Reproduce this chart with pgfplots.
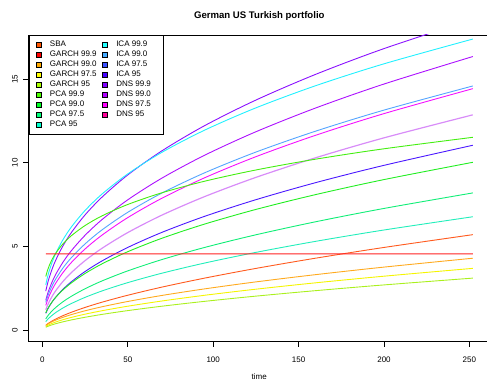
\documentclass[border=0pt]{standalone}
\usepackage{pgfplots}
\pgfplotsset{compat=1.18}
\usepackage{pgfplotstable}
\usepackage{fontspec}
\setmainfont{Liberation Sans}

\definecolor{cDNSa}{HTML}{8A10FF}
\definecolor{cCyan}{HTML}{22F0FF}
\definecolor{cDNSb}{HTML}{AC10FF}
\definecolor{cLblue}{HTML}{55A5FF}
\definecolor{cMag}{HTML}{F410FF}
\definecolor{cLviol}{HTML}{D88CF8}
\definecolor{cPCAa}{HTML}{44EE11}
\definecolor{cBlue}{HTML}{4B18FF}
\definecolor{cPCAb}{HTML}{22EE22}
\definecolor{cPCAc}{HTML}{11EE77}
\definecolor{cPCAd}{HTML}{22EEBB}
\definecolor{cGa}{HTML}{FF5A1E}
\definecolor{sbared}{HTML}{FF2222}
\definecolor{cGb}{HTML}{FFAA1E}
\definecolor{cGc}{HTML}{F5F500}
\definecolor{cGd}{HTML}{AAF01E}

% legend colours
\definecolor{lSBA}{HTML}{FF5500}
\definecolor{lG1}{HTML}{FF0000}
\definecolor{lG2}{HTML}{FFAA00}
\definecolor{lG3}{HTML}{FFFF00}
\definecolor{lG4}{HTML}{AAFF00}
\definecolor{lP1}{HTML}{4CFF00}
\definecolor{lP2}{HTML}{00FF22}
\definecolor{lP3}{HTML}{00FF78}
\definecolor{lP4}{HTML}{00FFCC}
\definecolor{lI1}{HTML}{22FFFF}
\definecolor{lI2}{HTML}{44AAFF}
\definecolor{lI3}{HTML}{3A50FF}
\definecolor{lI4}{HTML}{4400FF}
\definecolor{lD1}{HTML}{8000FF}
\definecolor{lD2}{HTML}{B000FF}
\definecolor{lD3}{HTML}{FF00FF}
\definecolor{lD4}{HTML}{FF0099}

\pgfplotstableread{
t   dA     cy     dB     lb     mg     lv     pA     bl     pB     pC    pD    gA    gB    gC    gD
2   2.324  2.704  1.777  1.649  1.469  1.204  3.200  0.994  1.028  0.663 0.500 0.279 0.271 0.214 0.163
3   2.767  3.161  2.141  1.979  1.780  1.468  3.563  1.217  1.245  0.819 0.622 0.359 0.342 0.271 0.209
4   3.131  3.532  2.443  2.254  2.039  1.690  3.845  1.404  1.426  0.951 0.726 0.430 0.403 0.321 0.249
6   3.727  4.128  2.943  2.706  2.469  2.062  4.281  1.718  1.725  1.174 0.904 0.554 0.508 0.408 0.319
8   4.218  4.612  3.358  3.080  2.829  2.374  4.620  1.983  1.976  1.364 1.055 0.663 0.599 0.483 0.380
12  5.022  5.391  4.045  3.699  3.426  2.896  5.145  2.427  2.392  1.684 1.313 0.853 0.755 0.614 0.486
17  5.833  6.165  4.747  4.328  4.039  3.435  5.642  2.886  2.818  2.018 1.584 1.060 0.921 0.753 0.601
25  6.885  7.151  5.666  5.150  4.847  4.150  6.249  3.498  3.380  2.466 1.950 1.349 1.148 0.946 0.760
35  7.957  8.140  6.611  5.994  5.681  4.893  6.832  4.135  3.960  2.938 2.338 1.664 1.390 1.153 0.933
50  9.277  9.338  7.788  7.041  6.725  5.828  7.509  4.939  4.684  3.536 2.833 2.079 1.705 1.422 1.159
70  10.720 10.631 9.087  8.194  7.883  6.873  8.210  5.841  5.488  4.213 3.397 2.565 2.066 1.734 1.422
95  12.226 11.957 10.456 9.404  9.107  7.981  8.902  6.800  6.337  4.938 4.005 3.103 2.459 2.076 1.713
125 13.756 13.290 11.860 10.644 10.368 9.130  9.573  7.795  7.212  5.695 4.643 3.683 2.877 2.440 2.025
160 15.296 14.616 13.283 11.897 11.651 10.305 10.220 8.816  8.101  6.475 5.304 4.296 3.311 2.822 2.353
200 16.836 15.926 14.716 13.156 12.946 11.496 10.842 9.851  8.999  7.272 5.982 4.938 3.762 3.218 2.696
252 18.590 17.408 16.362 14.601 14.439 12.873 11.528 11.053 10.033 8.201 6.775 5.703 4.293 3.687 3.103
}\data

\begin{document}
\begin{tikzpicture}
\begin{axis}[
  scale only axis,
  width=461.2bp, height=306bp,
  xmin=-8, xmax=262, ymin=-0.66, ymax=17.65,
  xtick={0,50,100,150,200,250},
  ytick={0,5,10,15},
  xtick pos=left, ytick pos=left,
  tick align=outside,
  major tick length=5.5bp,
  axis line style={line width=0.75bp},
  every tick/.style={black, line width=0.75bp},
  /pgf/number format/assume math mode=true,
  tick label style={font=\fontsize{8bp}{9.6bp}\selectfont},
  xticklabel style={anchor=base, yshift=-15.5bp},
  yticklabel style={rotate=90, anchor=base, yshift=5.6bp},
  title={German US Turkish portfolio},
  title style={font=\bfseries\fontsize{9.6bp}{11.5bp}\selectfont, at={(0.5,1)}, anchor=base, yshift=10.5bp},
  xlabel={time},
  xlabel style={font=\fontsize{8bp}{9.6bp}\selectfont, at={(axis description cs:0.5,0)}, anchor=base, yshift=-38.5bp},
  legend columns=2,
  legend cell align=left,
  legend image code/.code={\draw[#1, draw=black, line width=0.5bp] (-2.4bp,-2.4bp) rectangle (2.4bp,2.4bp);},
  legend style={
    at={(0,1)}, anchor=north west, draw=black, line width=0.75bp,
    font=\fontsize{8bp}{9.6bp}\selectfont,
    inner xsep=7.1bp, inner ysep=5.8bp, row sep=2.5bp,
    nodes={inner sep=0pt, text height=5.8bp, text depth=1.7bp},
    /tikz/every odd column/.append style={column sep=8.5bp},
    /tikz/every even column/.append style={column sep=5.8bp},
  },
  every axis plot/.append style={line width=0.9bp, smooth},
]
\addplot[draw=cDNSa, forget plot] table[x=t, y=dA] {\data};
\addplot[draw=cCyan, forget plot] table[x=t, y=cy] {\data};
\addplot[draw=cDNSb, forget plot] table[x=t, y=dB] {\data};
\addplot[draw=cLblue, forget plot] table[x=t, y=lb] {\data};
\addplot[draw=cMag, forget plot] table[x=t, y=mg] {\data};
\addplot[draw=cLviol, forget plot, line width=1.2bp] table[x=t, y=lv] {\data};
\addplot[draw=cPCAa, forget plot] table[x=t, y=pA] {\data};
\addplot[draw=cBlue, forget plot] table[x=t, y=bl] {\data};
\addplot[draw=cPCAb, forget plot] table[x=t, y=pB] {\data};
\addplot[draw=cPCAc, forget plot] table[x=t, y=pC] {\data};
\addplot[draw=cPCAd, forget plot] table[x=t, y=pD] {\data};
\addplot[draw=cGa, forget plot] table[x=t, y=gA] {\data};
% SBA: constant level
\addplot[color=sbared, forget plot, sharp plot, line width=1bp, mark=none] coordinates {(2,4.549) (252,4.551)};
\addplot[draw=cGb, forget plot] table[x=t, y=gB] {\data};
\addplot[draw=cGc, forget plot] table[x=t, y=gC] {\data};
\addplot[draw=cGd, forget plot] table[x=t, y=gD] {\data};

\addlegendimage{fill=lSBA}\addlegendentry{SBA}
\addlegendimage{fill=lI1}\addlegendentry{\makebox[40.4bp][l]{ICA 99.9}}
\addlegendimage{fill=lG1}\addlegendentry{GARCH 99.9}
\addlegendimage{fill=lI2}\addlegendentry{ICA 99.0}
\addlegendimage{fill=lG2}\addlegendentry{GARCH 99.0}
\addlegendimage{fill=lI3}\addlegendentry{ICA 97.5}
\addlegendimage{fill=lG3}\addlegendentry{GARCH 97.5}
\addlegendimage{fill=lI4}\addlegendentry{ICA 95}
\addlegendimage{fill=lG4}\addlegendentry{GARCH 95}
\addlegendimage{fill=lD1}\addlegendentry{DNS 99.9}
\addlegendimage{fill=lP1}\addlegendentry{PCA 99.9}
\addlegendimage{fill=lD2}\addlegendentry{DNS 99.0}
\addlegendimage{fill=lP2}\addlegendentry{PCA 99.0}
\addlegendimage{fill=lD3}\addlegendentry{DNS 97.5}
\addlegendimage{fill=lP3}\addlegendentry{PCA 97.5}
\addlegendimage{fill=lD4}\addlegendentry{DNS 95}
\addlegendimage{fill=lP4}\addlegendentry{PCA 95\rule[-4.7bp]{0pt}{1bp}}
\end{axis}
\pgfresetboundingbox
\path[use as bounding box] (current axis.south west) ++(-28.7bp,-42bp) rectangle ++(487bp,383bp);
\end{tikzpicture}
\end{document}
